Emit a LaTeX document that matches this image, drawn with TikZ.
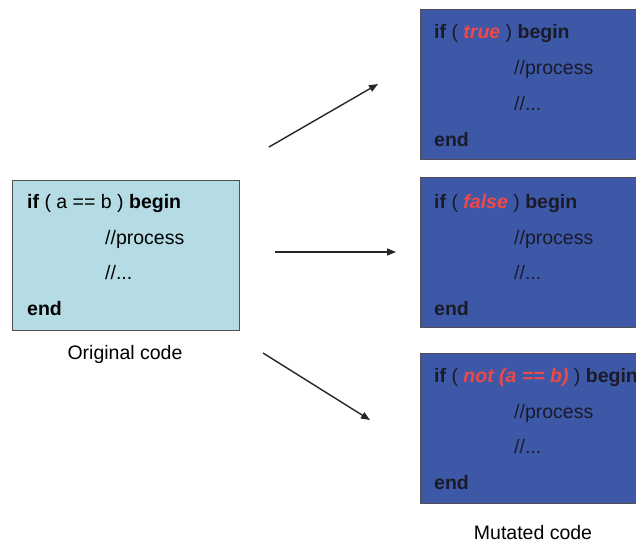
\documentclass[tikz,border=0pt]{standalone}
\usepackage{fontspec}
\setmainfont{Liberation Sans}
\usetikzlibrary{arrows.meta}
\definecolor{lightbox}{HTML}{B5DCE4}
\definecolor{darkbox}{HTML}{3D58A6}
\definecolor{boxline}{HTML}{505050}
\definecolor{mutred}{HTML}{F04848}
\definecolor{darktext}{HTML}{1A1A28}
\tikzset{
  codebox/.style={draw=boxline, line width=1pt, rectangle, anchor=north west, inner sep=0pt},
  origbox/.style={codebox, fill=lightbox, minimum width=227pt, minimum height=150pt},
  mutbox/.style={codebox, fill=darkbox, minimum width=240pt, minimum height=150pt},
  codeline/.style={anchor=base west, inner sep=0pt, font=\fontsize{19.5}{22}\selectfont},
  mutline/.style={codeline, text=darktext},
  caption/.style={anchor=base, inner sep=0pt, font=\fontsize{19.5}{22}\selectfont},
  arr/.style={-{Triangle[length=9pt,width=7pt]}, line width=1.4pt, draw=black!85}
}
\newcommand{\mred}[1]{\textcolor{mutred}{\textbf{\textit{#1}}}}
\begin{document}
\begin{tikzpicture}[x=1pt,y=-1pt]
\useasboundingbox (0,0) rectangle (636,542);
\clip (0,0) rectangle (636,542);
% original
\node[origbox] (orig) at (12,180) {};
\node[codeline] (o1) at (27,208) {\textbf{if} ( a == b ) \textbf{begin}};
\node[codeline] (o2) at (105,244) {//process};
\node[codeline] (o3) at (105,279) {//...};
\node[codeline] (o4) at (27,315) {\textbf{end}};
\node[caption] (ocap) at (125,359) {Original code};
% mutant 1
\node[mutbox] (m1) at (420,9) {};
\node[mutline] (a1) at (434,38) {\textbf{if} ( \mred{true} ) \textbf{begin}};
\node[mutline] (a2) at (514,74) {//process};
\node[mutline] (a3) at (514,110) {//...};
\node[mutline] (a4) at (434,146) {\textbf{end}};
% mutant 2
\node[mutbox] (m2) at (420,177) {};
\node[mutline] (b1) at (434,208) {\textbf{if} ( \mred{false} ) \textbf{begin}};
\node[mutline] (b2) at (514,244) {//process};
\node[mutline] (b3) at (514,279) {//...};
\node[mutline] (b4) at (434,315) {\textbf{end}};
% mutant 3
\node[mutbox] (m3) at (420,353) {};
\node[mutline] (c1) at (434,382) {\textbf{if} ( \mred{not (a == b)} ) \textbf{begin}};
\node[mutline] (c2) at (514,418) {//process};
\node[mutline] (c3) at (514,453) {//...};
\node[mutline] (c4) at (434,489) {\textbf{end}};
\node[caption] (mcap) at (533,539) {Mutated code};
% arrows
\coordinate (s1) at (269,147);
\coordinate (e1) at (378,84);
\coordinate (s2) at (275,252);
\coordinate (e2) at (396,252);
\coordinate (s3) at (263,353);
\coordinate (e3) at (370,420);
\draw[arr] (s1) -- (e1);
\draw[arr] (s2) -- (e2);
\draw[arr] (s3) -- (e3);
\end{tikzpicture}
\end{document}
